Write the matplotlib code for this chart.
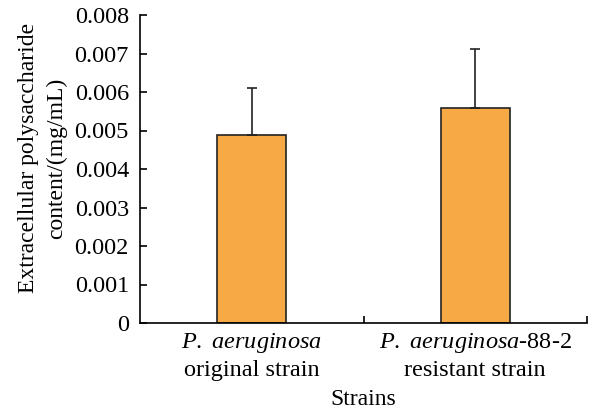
import matplotlib
matplotlib.use("Agg")
import matplotlib.pyplot as plt

plt.rcParams['font.family'] = ['Liberation Serif', 'DejaVu Serif']
plt.rcParams['mathtext.fontset'] = 'custom'
plt.rcParams['mathtext.rm'] = 'Liberation Serif'
plt.rcParams['mathtext.it'] = 'Liberation Serif:italic'

strains = ["$\\mathit{P.}$ $\\mathit{aeruginosa}$\noriginal strain",
           "$\\mathit{P.}$ $\\mathit{aeruginosa}$-88-2\nresistant strain"]
eps_content = [0.00488, 0.00558]
eps_err = [0.00123, 0.00154]
yticks = [0, 0.001, 0.002, 0.003, 0.004, 0.005, 0.006, 0.007, 0.008]
ytick_labels = ["0", "0.001", "0.002", "0.003", "0.004", "0.005", "0.006", "0.007", "0.008"]

fig = plt.figure(figsize=(5.92, 4.09), dpi=100)
ax = fig.add_axes([140/592, 1 - 323/409, 447/592, 308/409])

x = range(len(strains))
ax.bar(x, eps_content, width=0.31, color='#F6A944', edgecolor='#222222', linewidth=1.2,
       yerr=[[0, 0], eps_err], error_kw=dict(ecolor='#222222', elinewidth=1.2, capsize=3.5, capthick=1.2))

ax.set_xlim(-0.5, 1.5)
ax.set_ylim(0, 0.008)
ax.set_yticks(yticks)
ax.set_yticklabels(ytick_labels)
ax.set_xticks([0.5, 1.5])
ax.set_xticklabels([])
ax.set_xticks(list(x), minor=True)
ax.set_xticklabels(strains, minor=True, linespacing=1.3)
ax.tick_params(axis='x', which='minor', length=0, pad=6)
ax.tick_params(axis='both', which='major', direction='in', length=5, width=1.2)
ax.tick_params(axis='y', pad=8)
ax.tick_params(axis='both', which='both', labelsize=17.5)

for s in ['top', 'right']:
    ax.spines[s].set_visible(False)
for s in ['left', 'bottom']:
    ax.spines[s].set_linewidth(1.2)

ax.set_ylabel("Extracellular polysaccharide\ncontent/(mg/mL)", fontsize=17, linespacing=1.45)
ax.yaxis.set_label_coords(-0.162, 0.536)
ax.set_xlabel("Strains", fontsize=17, labelpad=6)

fig.savefig("out.png", dpi=100)
